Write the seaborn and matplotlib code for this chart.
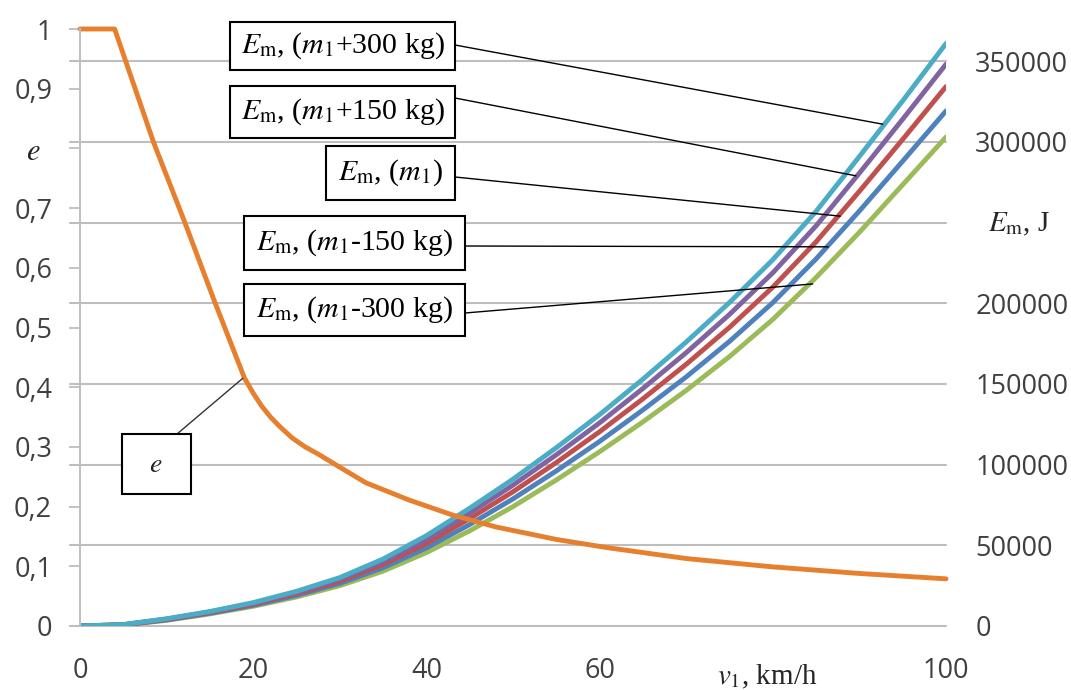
import numpy as np
import pandas as pd
import matplotlib
matplotlib.use("Agg")
import matplotlib.pyplot as plt
from matplotlib.patches import Rectangle
import seaborn as sns

# ---- data -------------------------------------------------------------
speed = [0, 5, 10, 15, 20, 25, 30, 35, 40, 45, 50, 55, 60, 65, 70, 75, 80, 85, 90, 95, 100]

E_minus300 = [0, 600, 3500, 7500, 12200, 18000, 25000, 34000, 45500, 59000, 74000,
              90500, 108000, 126500, 146000, 167000, 190000, 216000, 244000, 273500, 303000]
E_minus150 = [0, 700, 3800, 7900, 12800, 19000, 26400, 36100, 48400, 62900, 78800,
              96100, 114400, 133900, 154400, 176400, 200400, 227500, 257200, 288100, 319200]
E_base = [0, 800, 4000, 8300, 13400, 19900, 27700, 38100, 51200, 66600, 83200,
          101300, 120400, 140800, 162200, 185100, 210000, 238100, 269400, 301600, 334300]
E_plus150 = [0, 800, 4300, 8700, 14000, 20700, 28900, 39900, 53700, 69900, 87300,
             106100, 125900, 147200, 169400, 193100, 218900, 248000, 280700, 314100, 348200]
E_plus300 = [0, 900, 4500, 9000, 14500, 21500, 30000, 41500, 56000, 73000, 91000,
             110500, 131000, 153000, 176000, 200500, 227000, 257000, 291000, 325500, 361000]

e_speed = [0, 4, 8.5, 12, 15.5, 19, 20, 21, 22, 23, 24.5, 26, 27.5, 30, 33, 38, 43,
           48, 55, 61, 70, 80, 90, 100]
e_values = [1.0, 1.0, 0.81, 0.68, 0.545, 0.415, 0.39, 0.368, 0.35, 0.335, 0.315, 0.30,
            0.288, 0.266, 0.24, 0.211, 0.186, 0.166, 0.145, 0.131, 0.113, 0.099, 0.088, 0.079]

series_names = ["m1-300", "m1-150", "m1", "m1+150", "m1+300"]
series_colors = ["#9BBB59", "#4F81BD", "#C0504D", "#8064A2", "#4BACC6"]

x_ticks = [0, 20, 40, 60, 80, 100]
x_tick_labels = ["0", "20", "40", "60", "", "100"]
e_ticks = [0, 0.1, 0.2, 0.3, 0.4, 0.5, 0.6, 0.7, 0.8, 0.9, 1.0]
e_tick_labels = ["0", "0,1", "0,2", "0,3", "0,4", "0,5", "0,6", "0,7", "", "0,9", "1"]
E_ticks = [0, 50000, 100000, 150000, 200000, 250000, 300000, 350000]
E_tick_labels = ["0", "50000", "100000", "150000", "200000", "", "300000", "350000"]

box_labels = [r"$E_{\mathrm{m}}$, ($m_1$+300 kg)",
              r"$E_{\mathrm{m}}$, ($m_1$+150 kg)",
              r"$E_{\mathrm{m}}$, ($m_1$)",
              r"$E_{\mathrm{m}}$, ($m_1$-150 kg)",
              r"$E_{\mathrm{m}}$, ($m_1$-300 kg)"]

# ---- style ------------------------------------------------------------
sns.set_style("white")
plt.rcParams["font.family"] = ["Open Sans", "DejaVu Sans"]
plt.rcParams["mathtext.fontset"] = "stix"
SERIF = ["Liberation Serif", "DejaVu Serif"]
GRID = "#BEBEBE"
TICK_TXT = "#404040"
LW = 3.5

W, H = 1071, 690
fig = plt.figure(figsize=(W / 100, H / 100), dpi=100)
fig.patch.set_facecolor("white")

x0, x1, y_top, y_bot = 80, 946, 29, 626
ax_e = fig.add_axes([x0 / W, 1 - y_bot / H, (x1 - x0) / W, (y_bot - y_top) / H])
ax_E = ax_e.twinx()
ax_e.set_zorder(ax_E.get_zorder() + 1)
ax_e.patch.set_visible(False)

# ---- energy curves (right axis) ------------------------------------------
energy = pd.DataFrame({
    "speed": speed * 5,
    "E": E_minus300 + E_minus150 + E_base + E_plus150 + E_plus300,
    "series": sum([[n] * len(speed) for n in series_names], []),
})
sns.lineplot(data=energy, x="speed", y="E", hue="series", hue_order=series_names,
             palette=dict(zip(series_names, series_colors)), linewidth=LW,
             legend=False, errorbar=None, ax=ax_E)
for line in ax_E.get_lines():
    line.set_solid_joinstyle("round")

ax_E.set_ylim(0, 370000)
ax_E.set_xlim(0, 100)
for yv in E_ticks:
    ax_E.axhline(yv, xmin=-0.0115, xmax=1, color=GRID, lw=1.5, clip_on=False, zorder=0)
ax_E.set_yticks(E_ticks)
ax_E.set_yticklabels(E_tick_labels)
ax_E.tick_params(axis="y", length=0, pad=21, labelsize=19.5, labelcolor=TICK_TXT)
ax_E.set_ylabel("")
for s in ax_E.spines.values():
    s.set_visible(False)

# ---- coefficient e (left axis) --------------------------------------------
sns.lineplot(x=e_speed, y=e_values, color="#E6802F", linewidth=LW, ax=ax_e,
             errorbar=None, clip_on=False)
for line in ax_e.get_lines():
    line.set_solid_joinstyle("round")
ax_e.set_xlim(0, 100)
ax_e.set_ylim(0, 1.0)
ax_e.set_yticks(e_ticks)
ax_e.set_yticklabels(e_tick_labels)
ax_e.set_xticks(x_ticks)
ax_e.set_xticklabels(x_tick_labels)
ax_e.tick_params(axis="y", length=8, width=1.3, color=GRID, direction="out",
                 pad=12, labelsize=19.5, labelcolor=TICK_TXT)
ax_e.tick_params(axis="x", length=0, pad=22, labelsize=19.5, labelcolor=TICK_TXT)
for name, s in ax_e.spines.items():
    s.set_visible(name == "left")
ax_e.spines["left"].set_color(GRID)
ax_e.spines["left"].set_linewidth(1.4)
ax_e.set_xlabel("")
ax_e.set_ylabel("")

# ---- axis titles ----------------------------------------------------------
fig.text(33 / W, 1 - 153 / H, r"$e$", ha="center", va="center", fontsize=22, family=SERIF)
fig.text(1019 / W, 1 - 224 / H, r"$E_{\mathrm{m}}$, J", ha="center", va="center",
         fontsize=21, family=SERIF)
fig.text(767 / W, 1 - 684 / H, r"$v_1$, km/h", ha="center", va="baseline",
         fontsize=21, family=SERIF)

# ---- labelled boxes with leader lines -------------------------------------
def px_box(left, top, right, bottom):
    rect = Rectangle((left / W, 1 - bottom / H), (right - left) / W, (bottom - top) / H,
                     transform=fig.transFigure, facecolor="white", edgecolor="black",
                     linewidth=1.5, zorder=5)
    fig.add_artist(rect)

# (box left, top, right, bottom) in pixels, leader start, leader end (speed, value)
boxes = [
    ((230, 22, 455, 70), (455, 45), (92.7, 311000)),
    ((230, 86, 455, 138), (455, 98), (89.6, 279000)),
    ((326, 146, 455, 200), (455, 177), (87.8, 254000)),
    ((244, 216, 465, 270), (465, 246), (86.4, 235000)),
    ((244, 284, 465, 336), (465, 313), (84.6, 212000)),
]
for (bx, start, end), text in zip(boxes, box_labels):
    ax_E.annotate("", xy=end, xycoords="data",
                  xytext=(start[0], H - start[1]), textcoords="figure pixels",
                  arrowprops=dict(arrowstyle="-", color="black", lw=1.0,
                                  shrinkA=0, shrinkB=0))
    px_box(*bx)
    cx = (bx[0] + bx[2]) / 2
    cy = (bx[1] + bx[3]) / 2
    fig.text(cx / W, 1 - cy / H, text, ha="center", va="center", fontsize=21.5,
             family=SERIF, color="black", zorder=6)

ax_e.annotate("", xy=(18.8, 0.415), xycoords="data",
              xytext=(177, H - 434), textcoords="figure pixels",
              arrowprops=dict(arrowstyle="-", color="#333333", lw=1.0,
                              shrinkA=0, shrinkB=0))
px_box(122, 434, 191, 494)
fig.text(156 / W, 1 - 465 / H, r"$e$", ha="center", va="center", fontsize=20,
         family=SERIF, zorder=6)

fig.savefig("out.png", dpi=100)
